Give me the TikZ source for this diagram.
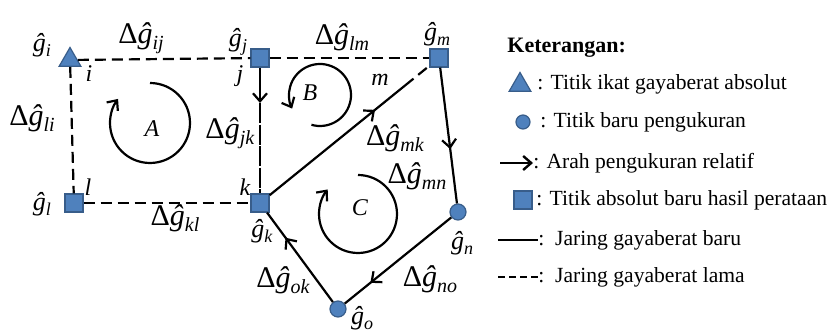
\documentclass[tikz,border=0pt]{standalone}
\usepackage{fontspec}
\setmainfont{LiberationSerif}[Extension=.ttf, UprightFont=*-Regular, BoldFont=*-Bold,
  ItalicFont=*-Italic, BoldItalicFont=*-BoldItalic]
\usetikzlibrary{arrows.meta,shapes.geometric,decorations.markings,calc}
\definecolor{ptblue}{RGB}{79,129,189}
\definecolor{ptedge}{RGB}{56,93,138}

\newcommand{\dg}[1]{{\fontsize{15}{15}\selectfont Δ\textit{ĝ}}\raisebox{-3pt}{\fontsize{10}{10}\selectfont\textit{#1}}}
\newcommand{\gh}[1]{{\fontsize{13}{13}\selectfont\textit{ĝ}}\raisebox{-2.5pt}{\fontsize{9}{9}\selectfont\textit{#1}}}

\begin{document}
\begin{tikzpicture}[x=0.5pt, y=-0.5pt,
  sqpt/.style={draw=ptedge, fill=ptblue, minimum size=9pt, inner sep=0pt, line width=0.6pt},
  tript/.style={regular polygon, regular polygon sides=3, draw=ptedge, fill=ptblue, minimum size=12.5pt, inner sep=0pt, line width=0.6pt},
  cirpt/.style={circle, draw=ptedge, fill=ptblue, minimum size=8pt, inner sep=0pt, line width=0.6pt},
  newnet/.style={line width=1.1pt},
  oldnet/.style={line width=1.1pt, dash pattern=on 5.5pt off 3pt},
  barb/.style={-{Straight Barb[length=4pt,width=7pt]}},
  midarrow/.style={postaction={decorate,decoration={markings,
      mark=at position #1 with {\arrow{Straight Barb[length=4pt,width=7pt]}}}}},
  lbl/.style={font=\fontsize{12}{12}\selectfont\itshape, inner sep=0pt},
  legtext/.style={anchor=west, font=\fontsize{10.8}{12}\selectfont, inner sep=0pt}]

\useasboundingbox (0,0) rectangle (837,331);

% points
\node[tript] (gi) at (70,60) {};
\node[sqpt]  (gj) at (260,58) {};
\node[sqpt]  (gm) at (439,58) {};
\node[sqpt]  (gl) at (74,203) {};
\node[sqpt]  (gk) at (260,203) {};
\node[cirpt] (gn) at (458,212) {};
\node[cirpt] (go) at (338,309) {};

% old network
\draw[oldnet] (gi) -- (gj);
\draw[oldnet] (gj) -- (gm);
\draw[oldnet] (gi) -- (gl);
\draw[oldnet] (gl) -- (gk);
\draw[newnet, barb] (gj) -- ($(gj)!0.31!(gk)$) coordinate (jkmid);
\draw[line width=1.1pt, dash pattern=on 10pt off 0.8pt] (jkmid) -- (gk);

% new network
\draw[newnet, midarrow=0.78] (gk) -- ($(gk)!0.81!(gm)$) coordinate (mkend);
\draw[oldnet] (mkend) -- (gm);
\draw[newnet, midarrow=0.6] (gm) -- (gn);
\draw[newnet, midarrow=0.76] (gn) -- (go);
\draw[newnet, midarrow=0.72] (go) -- (gk);

% loops
\draw[newnet, barb] (150,83) arc[start angle=-90, end angle=217, radius=40];
\draw[newnet, barb] ($(320,95)+(106:31)$) arc[start angle=106, end angle=-206, radius=31];
\draw[newnet, barb] (358,175) arc[start angle=-90, end angle=219, radius=39];
\node[lbl] (loopA) at (152,129) {A};
\node[lbl] (loopB) at (310,93) {B};
\node[lbl] (loopC) at (360,208) {C};

% point labels
\node (ti) at (42,45) {\gh{i}};
\node (tj) at (238,42) {\gh{j}};
\node (tm) at (437,34) {\gh{m}};
\node (tl) at (42,204) {\gh{l}};
\node (tk) at (262,231) {\gh{k}};
\node (tn) at (462,243) {\gh{n}};
\node (to) at (362,318) {\gh{o}};
\node[lbl] (ni) at (89,74) {i};
\node[lbl] (nj) at (240,76) {j};
\node[lbl] (nm) at (380,80) {m};
\node[lbl] (nl) at (88,187) {l};
\node[lbl] (nk) at (245,187) {k};

% differences
\node (dij) at (141,38) {\dg{ij}};
\node (dlm) at (342,37) {\dg{lm}};
\node (dli) at (32,118) {\dg{li}};
\node (djk) at (230,133) {\dg{jk}};
\node (dkl) at (175,218) {\dg{kl}};
\node (dmk) at (395,138) {\dg{mk}};
\node (dmn) at (417,176) {\dg{mn}};
\node (dno) at (430,279) {\dg{no}};
\node (dok) at (283,280) {\dg{ok}};

% legend
\node[legtext, font=\fontsize{11}{12}\selectfont\bfseries] (leghead) at (507,48) {Keterangan:};
\node[tript] (legtri) at (520,85) {};
\node[legtext] (legabs) at (537,84) {: Titik ikat gayaberat absolut};
\node[cirpt, minimum size=7pt] (legcir) at (523,122) {};
\node[legtext] (legnew) at (540,122) {: Titik baru pengukuran};
\coordinate (legarr) at (500,163);
\node[legtext] (legdir) at (533,163) {: Arah pengukuran relatif};
\draw[line width=1.2pt, barb] (legarr) -- (legdir.west);
\node[sqpt] (legsq) at (523,200) {};
\node[legtext] (legadj) at (536,200) {: Titik absolut baru hasil perataan};
\coordinate (legsol) at (498,240);
\node[legtext] (legbaru) at (538,240) {:~~Jaring gayaberat baru};
\draw[newnet] (legsol) -- (legbaru.west);
\coordinate (legdash) at (498,277);
\node[legtext] (leglama) at (538,277) {:~~Jaring gayaberat lama};
\draw[line width=1.1pt, dash pattern=on 3.5pt off 2pt] (legdash) -- (leglama.west);

\end{tikzpicture}
\end{document}
